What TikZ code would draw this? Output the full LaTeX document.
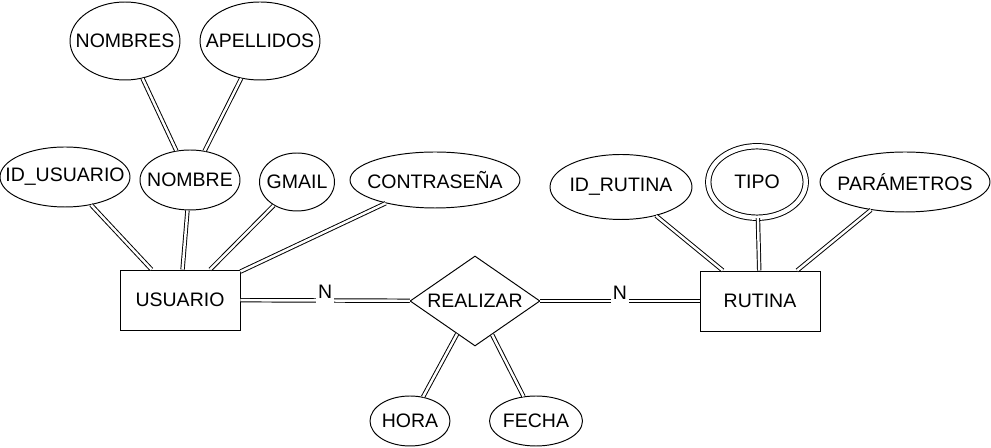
\documentclass[tikz,border=0pt]{standalone}
\usepackage{fontspec}
\setmainfont{Liberation Sans}
\usetikzlibrary{shapes.geometric}
\newcommand{\etq}[1]{\makebox[0pt]{#1}}

\begin{document}
\begin{tikzpicture}[x=0.02cm,y=-0.02cm,
  font=\fontsize{11.1}{13}\selectfont,
  ent/.style={draw,line width=0.55pt,rectangle,minimum width=2.4cm,minimum height=1.2cm,inner sep=0pt},
  atr/.style={draw,line width=0.55pt,ellipse,inner sep=0pt},
  rel/.style={draw,line width=0.55pt,diamond,aspect=1.44,minimum width=2.6cm,minimum height=1.8cm,inner sep=0pt},
  lnk/.style={double,line width=0.55pt,double distance=1.4pt},
  card/.style={fill=white,inner xsep=1pt,inner ysep=0pt,text depth=3pt,anchor=base,yshift=1pt}]
\useasboundingbox (0,0) rectangle (991,448);

% entidades y relacion
\node[ent] (usuario) at (180,300) {USUARIO};
\node[ent] (rutina) at (760,301) {RUTINA};
\node[rel] (realizar) at (475,301) {REALIZAR};

% atributos de usuario
\node[atr,minimum width=2.2cm,minimum height=1.56cm] (nombres) at (125,41) {\etq{NOMBRES}};
\node[atr,minimum width=2.4cm,minimum height=1.56cm] (apellidos) at (260,41) {\etq{APELLIDOS}};
\node[atr,minimum width=2.6cm,minimum height=1.2cm] (idusuario) at (65,177) {\etq{ID\_USUARIO}};
\node[atr,minimum width=2.0cm,minimum height=1.2cm] (nombre) at (190,180) {\etq{NOMBRE}};
\node[atr,minimum width=1.5cm,minimum height=1.16cm] (gmail) at (297,182) {\etq{GMAIL}};
\node[atr,minimum width=3.4cm,minimum height=1.12cm] (contrasena) at (435,180) {\etq{CONTRASEÑA}};

% atributos de rutina
\node[atr,minimum width=2.84cm,minimum height=1.3cm] (idrutina) at (621,187) {\etq{ID\_RUTINA}};
\node[atr,double,double distance=2.5pt,minimum width=1.95cm,minimum height=1.43cm] (tipo) at (757,182) {\etq{TIPO}};
\node[atr,minimum width=3.4cm,minimum height=1.2cm] (parametros) at (905,182) {\etq{PARÁMETROS}};

% atributos de la relacion
\node[atr,minimum width=1.6cm,minimum height=1.0cm] (hora) at (410,421) {\etq{HORA}};
\node[atr,minimum width=1.86cm,minimum height=1.0cm] (fecha) at (536,421) {\etq{FECHA}};

\draw[lnk] (nombres) -- (nombre);
\draw[lnk] (apellidos) -- (nombre);
\draw[lnk] (idusuario) -- (usuario);
\draw[lnk] (nombre) -- (usuario);
\draw[lnk] (gmail) -- (usuario);
\draw[lnk] (contrasena) -- (usuario);
\draw[lnk] (idrutina) -- (rutina);
\draw[lnk] (tipo) -- (rutina);
\draw[lnk] (parametros) -- (rutina);
\draw[lnk] (realizar) -- (hora);
\draw[lnk] (realizar) -- (fecha);
\draw[lnk] (usuario) -- node[card] (n1) {N} (realizar);
\draw[lnk] (realizar) -- node[card] (n2) {N} (rutina);
\end{tikzpicture}
\end{document}
